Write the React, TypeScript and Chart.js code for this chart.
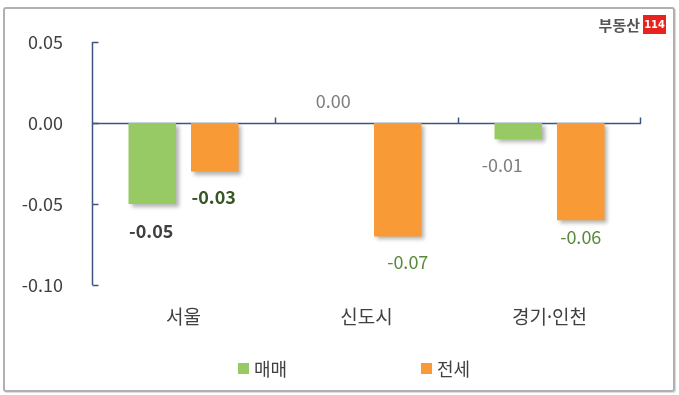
import React, { useEffect, useRef } from "react";
import { Chart, registerables } from "chart.js";

Chart.register(...registerables);

const categories = ["서울", "신도시", "경기·인천"];
const seriesNames = ["매매", "전세"];
const saleValues = [-0.05, 0.0, -0.01];
const jeonseValues = [-0.03, -0.07, -0.06];
const yTicks = [-0.1, -0.05, 0, 0.05];

const seriesColors = ["#97c964", "#f89a36"];
const labelColors = [
  ["#404040", "#7f7f7f", "#7f7f7f"],
  ["#375623", "#5a8a3a", "#5a8a3a"],
];
const labelBold = [
  [true, false, false],
  [true, false, false],
];
// label offsets (dx, dy) relative to bar end
const labelDx = [
  [-1, -2, -16],
  [-1, 10, 0],
];
const labelDy = [
  [27, -22, 26],
  [26, 26, 17],
];

const FONT = "'Noto Sans CJK KR', 'Noto Sans', sans-serif";
const CAT_FONT = "'Noto Sans', 'Noto Sans CJK KR', sans-serif";
const AXIS_COLOR = "#3e5481";

const shadowPlugin = {
  id: "barShadow",
  beforeDatasetDraw(chart: any) {
    const ctx = chart.ctx;
    ctx.save();
    ctx.shadowColor = "rgba(0,0,0,0.3)";
    ctx.shadowBlur = 4;
    ctx.shadowOffsetX = 3;
    ctx.shadowOffsetY = 3;
  },
  afterDatasetDraw(chart: any) {
    chart.ctx.restore();
  },
};

const decorPlugin = {
  id: "decor",
  beforeDatasetsDraw(chart: any) {
    const ctx = chart.ctx;
    const x = chart.scales.x;
    const y = chart.scales.y;
    const area = chart.chartArea;
    ctx.save();
    ctx.strokeStyle = AXIS_COLOR;
    ctx.lineWidth = 1.5;
    const ax = Math.round(area.left) + 0.5;
    ctx.beginPath();
    ctx.moveTo(ax, y.getPixelForValue(0.05));
    ctx.lineTo(ax, y.getPixelForValue(-0.1));
    ctx.stroke();
    yTicks.forEach((v) => {
      const py = Math.round(y.getPixelForValue(v)) + 0.5;
      ctx.beginPath();
      ctx.moveTo(ax, py);
      ctx.lineTo(ax + 6, py);
      ctx.stroke();
    });
    const zy = Math.round(y.getPixelForValue(0)) + 0.5;
    ctx.beginPath();
    ctx.moveTo(ax, zy);
    ctx.lineTo(area.right, zy);
    ctx.stroke();
    for (let i = 0; i < categories.length; i++) {
      const bx = Math.round((x.getPixelForValue(i) + x.getPixelForValue(i + 1)) / 2);
      const px = i === categories.length - 1 ? Math.round(area.right) - 0.5 : bx + 0.5;
      ctx.beginPath();
      ctx.moveTo(px, zy);
      ctx.lineTo(px, zy - 6);
      ctx.stroke();
    }
    ctx.restore();
  },
  afterDraw(chart: any) {
    const ctx = chart.ctx;
    ctx.save();
    chart.data.datasets.forEach((ds: any, di: number) => {
      const meta = chart.getDatasetMeta(di);
      meta.data.forEach((bar: any, i: number) => {
        const v = ds.data[i];
        ctx.font = `${labelBold[di][i] ? "bold " : ""}18px ${FONT}`;
        ctx.fillStyle = labelColors[di][i];
        ctx.textAlign = "center";
        ctx.textBaseline = "middle";
        ctx.fillText(v.toFixed(2), bar.x + labelDx[di][i], bar.y + labelDy[di][i]);
      });
    });
    const ly = 369;
    const items = [
      { x: 238, text: seriesNames[0], color: seriesColors[0] },
      { x: 421, text: seriesNames[1], color: seriesColors[1] },
    ];
    ctx.font = `18px ${FONT}`;
    ctx.textAlign = "left";
    ctx.textBaseline = "middle";
    items.forEach((it) => {
      ctx.fillStyle = it.color;
      ctx.fillRect(it.x, ly - 6, 11, 11);
      ctx.fillStyle = "#404040";
      ctx.fillText(it.text, it.x + 16, ly);
    });
    ctx.font = `bold 15px ${FONT}`;
    ctx.fillStyle = "#555555";
    ctx.textAlign = "right";
    ctx.fillText("부동산", 640, 25);
    ctx.fillStyle = "#e8231f";
    ctx.fillRect(643, 15, 23, 19);
    ctx.fillStyle = "#ffffff";
    ctx.font = `bold 11px 'Liberation Sans Narrow', 'DejaVu Sans Condensed', sans-serif`;
    ctx.textAlign = "center";
    ctx.fillText("114", 654.5, 25);
    ctx.restore();
  },
};

export default function App() {
  const ref = useRef<HTMLCanvasElement | null>(null);
  useEffect(() => {
    document.body.style.margin = "0";
    const canvas = ref.current!;
    const chart = new Chart(canvas, {
      type: "bar",
      data: {
        labels: categories,
        datasets: [
          {
            label: seriesNames[0],
            data: saleValues,
            backgroundColor: seriesColors[0],
            categoryPercentage: 0.683,
            barPercentage: 0.76,
          },
          {
            label: seriesNames[1],
            data: jeonseValues,
            backgroundColor: seriesColors[1],
            categoryPercentage: 0.683,
            barPercentage: 0.76,
          },
        ],
      },
      options: {
        animation: false,
        responsive: false,
        maintainAspectRatio: false,
        layout: { padding: { top: 42, right: 38, left: 0, bottom: 0 } },
        plugins: {
          legend: { display: false },
          tooltip: { enabled: false },
        },
        scales: {
          x: {
            grid: { display: false, drawTicks: false },
            border: { display: false },
            ticks: {
              padding: 22,
              color: "#404040",
              font: { family: CAT_FONT, size: 19 },
            },
            afterFit: (s: any) => {
              s.height = 110;
            },
          },
          y: {
            min: -0.1,
            max: 0.05,
            grid: { display: false, drawTicks: false },
            border: { display: false },
            afterBuildTicks: (s: any) => {
              s.ticks = yTicks.map((v) => ({ value: v }));
            },
            ticks: {
              padding: 29,
              color: "#404040",
              font: { family: FONT, size: 18 },
              callback: (v: any) => Number(v).toFixed(2),
            },
            afterFit: (s: any) => {
              s.width = 92;
            },
          },
        },
      },
      plugins: [shadowPlugin, decorPlugin],
    });
    return () => chart.destroy();
  }, []);
  return (
    <div style={{ position: "relative", width: 679, height: 395, background: "#fff" }}>
      <div
        style={{
          position: "absolute",
          left: 3,
          top: 7,
          width: 668,
          height: 381,
          border: "2px solid #b0b0b0",
          borderRadius: 3,
          boxShadow: "1px 1px 1px rgba(0,0,0,0.15)",
        }}
      />
      <canvas ref={ref} width={679} height={395} style={{ position: "absolute", left: 0, top: 0 }} />
    </div>
  );
}
